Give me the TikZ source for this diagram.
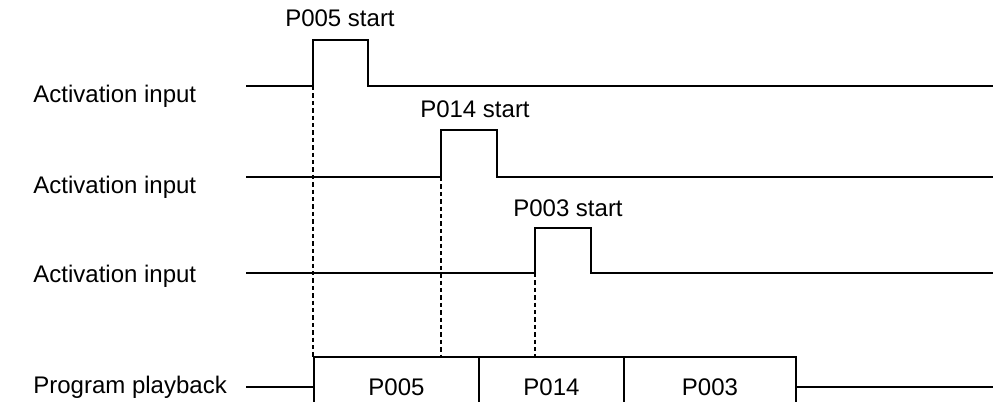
\documentclass[tikz,border=0pt]{standalone}
\usepackage{fontspec}
\setmainfont{Liberation Sans}
\usetikzlibrary{positioning}

\begin{document}
\begin{tikzpicture}[
  x=0.5pt, y=-0.5pt,
  node distance=0pt,
  every node/.style={font=\fontsize{12}{14}\selectfont, inner sep=0pt},
  sig/.style={line width=1pt},
  guide/.style={line width=0.9pt, dash pattern=on 2.2pt off 1.5pt},
  seg/.style={draw, line width=1pt, outer sep=0pt, minimum height=30pt, align=center}
]
\clip (0,0) rectangle (993,402);

% Row labels
\node[anchor=base west] (act1) at (33,102) {Activation input};
\node[anchor=base west] (act2) at (33,193) {Activation input};
\node[anchor=base west] (act3) at (33,282) {Activation input};
\node[anchor=base west] (play) at (33,393) {Program playback};

% Start labels
\node[anchor=base] (st5) at (340,26) {P005 start};
\node[anchor=base] (st14) at (475,117) {P014 start};
\node[anchor=base] (st3) at (568,216) {P003 start};

% Pulse edges
\coordinate (r1) at (313,86);
\coordinate (r2) at (441,177);
\coordinate (r3) at (535,273);

% Activation signals
\draw[sig] (246,86) -- (r1) -- (313,40) -- (368,40) -- (368,86) -- (993,86);
\draw[sig] (246,177) -- (r2) -- (441,130) -- (497,130) -- (497,177) -- (993,177);
\draw[sig] (246,273) -- (r3) -- (535,228) -- (591,228) -- (591,273) -- (993,273);

% Playback segments
\node[seg, anchor=north west, minimum width=82.5pt] (p005) at (314,357) {P005};
\node[seg, right=of p005, minimum width=72.5pt] (p014) {P014};
\node[seg, right=of p014, minimum width=86pt] (p003) {P003};
\draw[sig] (246,387) -- (p005.west);
\draw[sig] (p003.east) -- (993,387);

% Dashed guides
\draw[guide] (r1) -- (r1 |- p005.north);
\draw[guide] (r2) -- (r2 |- p005.north);
\draw[guide] (r3) -- (r3 |- p014.north);

\end{tikzpicture}
\end{document}
